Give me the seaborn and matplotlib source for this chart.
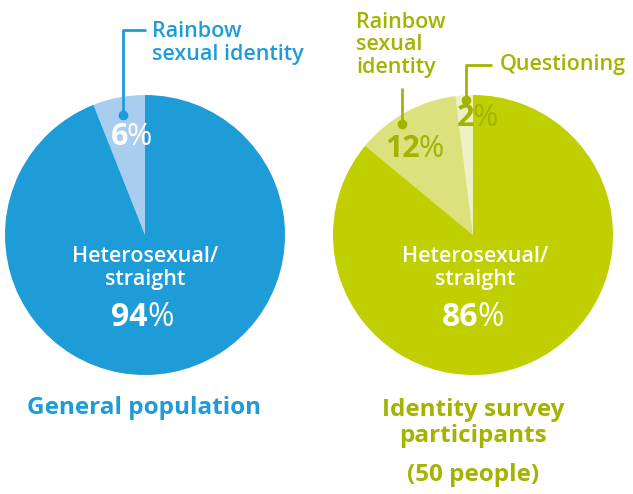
import matplotlib.pyplot as plt
import seaborn as sns

# data
general_labels = ["Rainbow sexual identity", "Heterosexual/straight"]
general_values = [6, 94]
general_colors = ["#A9CDEE", "#1E9CD7"]

survey_labels = ["Questioning", "Rainbow sexual identity", "Heterosexual/straight"]
survey_values = [2, 12, 86]
survey_colors = ["#EEF1C4", "#DCE17E", "#BFCF00"]

BLUE = "#1E9CD7"
OLIVE = "#A3B300"
H = 494

sns.set_theme(style="white")
plt.rcParams["font.family"] = ["Open Sans", "DejaVu Sans"]

fig = plt.figure(figsize=(6.33, 4.94), dpi=100)
ax = fig.add_axes([0, 0, 1, 1])
ax.axis("off")


def Y(py):
    return H - py


ax.pie(general_values, colors=general_colors, startangle=90, counterclock=True,
       center=(145, Y(235)), radius=140, wedgeprops=dict(linewidth=0))
ax.pie(survey_values, colors=survey_colors, startangle=90, counterclock=True,
       center=(473, Y(235)), radius=140, wedgeprops=dict(linewidth=0))
ax.set_xlim(0, 633)
ax.set_ylim(0, H)
ax.set_aspect("equal")


def pct(x, y, val, color, size):
    ax.text(x, Y(y), str(val), ha="right", va="center", color=color,
            fontsize=size, fontweight="bold")
    ax.text(x - 1, Y(y), "%", ha="left", va="center", color=color,
            fontsize=size, fontweight="normal")


def leader(points, color, dot):
    xs = [p[0] for p in points]
    ys = [Y(p[1]) for p in points]
    ax.plot(xs, ys, color=color, lw=2, solid_capstyle="butt")
    ax.plot(dot[0], Y(dot[1]), "o", color=color, ms=6)


# left pie
leader([(146, 30), (123, 30), (123, 115)], BLUE, (123, 115))
ax.text(152, Y(43), "Rainbow\nsexual identity", ha="left", va="center",
        color=BLUE, fontsize=15.5, fontweight="semibold", linespacing=1.15)
pct(128, 137, general_values[0], "white", 22)
ax.text(145, Y(268), "Heterosexual/\nstraight", ha="center", va="center",
        color="white", fontsize=15.5, fontweight="semibold", linespacing=1.15)
pct(148, 318, general_values[1], "white", 23)
ax.text(144, Y(408), "General population", ha="center", va="center",
        color=BLUE, fontsize=17.5, fontweight="bold")

# right pie
leader([(402, 88), (402, 124)], OLIVE, (402, 124))
leader([(492, 65), (466, 65), (466, 100)], OLIVE, (466, 100))
ax.text(356, Y(45), "Rainbow\nsexual\nidentity", ha="left", va="center",
        color=OLIVE, fontsize=15.5, fontweight="semibold", linespacing=1.1)
ax.text(500, Y(65), "Questioning", ha="left", va="center",
        color=OLIVE, fontsize=15.5, fontweight="semibold")
pct(474, 118, survey_values[0], OLIVE, 22)
pct(420, 149, survey_values[1], OLIVE, 22)
ax.text(475, Y(268), "Heterosexual/\nstraight", ha="center", va="center",
        color="white", fontsize=15.5, fontweight="semibold", linespacing=1.15)
pct(478, 318, survey_values[2], "white", 23)
ax.text(473, Y(423), "Identity survey\nparticipants", ha="center", va="center",
        color=OLIVE, fontsize=17.5, fontweight="bold", linespacing=1.15)
ax.text(473, Y(475), "(50 people)", ha="center", va="center",
        color=OLIVE, fontsize=17.5, fontweight="bold")

fig.savefig("out.png", dpi=100)
